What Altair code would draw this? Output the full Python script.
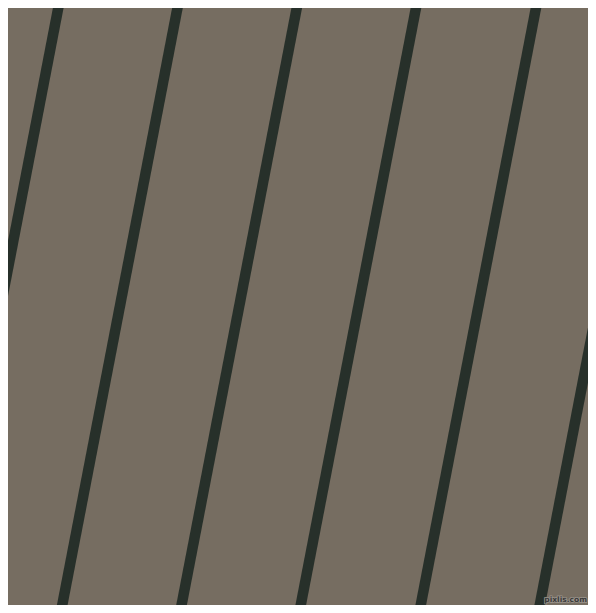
import altair as alt
import pandas as pd

# Stripe positions (pixel coordinates of the 596x613 image)
x_top = [59.8, 179.0, 298.3, 417.5, 537.5, 656.5]
x_bottom = [-58.5, 60.7, 180.0, 299.2, 419.2, 538.2]
y_top = [0, 0, 0, 0, 0, 0]
y_bottom = [613, 613, 613, 613, 613, 613]

mark_label = ["pixlis.com"]
mark_x = [587]
mark_y = [602]

BG = "#766D61"
STRIPE = "#27302A"

stripes = pd.DataFrame({"x": x_top, "y": y_top, "x2": x_bottom, "y2": y_bottom})
wm = pd.DataFrame({"x": mark_x, "y": mark_y, "label": mark_label})

# Page has 8px margin: show reference region x 8..588, y 8..605 at 1:1
xs = alt.Scale(domain=[8, 588], nice=False, zero=False)
ys = alt.Scale(domain=[8, 605], nice=False, zero=False, reverse=True)

rules = alt.Chart(stripes).mark_rule(
    color=STRIPE, strokeWidth=10.5, clip=True, strokeCap="butt"
).encode(
    x=alt.X("x:Q", scale=xs, axis=None),
    y=alt.Y("y:Q", scale=ys, axis=None),
    x2="x2:Q",
    y2="y2:Q",
)

wm_back = alt.Chart(wm).mark_text(
    align="right", baseline="alphabetic", fontSize=7.5, font="DejaVu Sans",
    fontWeight="bold", stroke="#9a948c", strokeWidth=1.5, fill="#9a948c"
).encode(
    x=alt.X("x:Q", scale=xs, axis=None),
    y=alt.Y("y:Q", scale=ys, axis=None),
    text="label:N",
)

wm_front = alt.Chart(wm).mark_text(
    align="right", baseline="alphabetic", fontSize=7.5, font="DejaVu Sans",
    fontWeight="bold", fill="#3a3a3a"
).encode(
    x=alt.X("x:Q", scale=xs, axis=None),
    y=alt.Y("y:Q", scale=ys, axis=None),
    text="label:N",
)

chart = alt.layer(rules, wm_back, wm_front).properties(
    width=580, height=597, padding=0, autosize="none", background=BG
).configure_view(stroke=None, fill=BG)

chart.save("out.html", embed_options={"renderer": "svg", "actions": False})
